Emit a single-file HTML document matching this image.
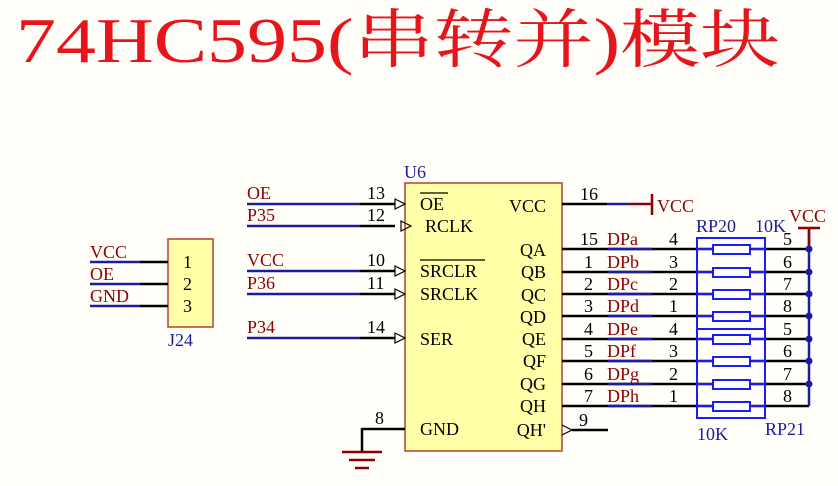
<!DOCTYPE html>
<html><head><meta charset="utf-8"><style>
body{margin:0;background:#fffef9;}
svg{display:block}
text{font-family:"Liberation Serif","Noto Serif CJK SC",serif;font-size:18px}
.r{fill:#8b0000}.k{fill:#000}.b{fill:#1c1c9c}
</style></head><body>
<svg width="838" height="486" viewBox="0 0 838 486" xmlns="http://www.w3.org/2000/svg">
<rect width="838" height="486" fill="#fffef9"/>
<text x="16" y="62" style="font-size:64px;fill:#e8141c" textLength="764" lengthAdjust="spacingAndGlyphs">74HC595(串转并)模块</text>

<!-- J24 -->
<rect x="168" y="239" width="45" height="88" fill="#ffffa8" stroke="#b0402a" stroke-width="1.5"/>
<g stroke-width="2.5">
<line x1="90" y1="262" x2="140" y2="262" stroke="#1c1c9c"/><line x1="140" y1="262" x2="168" y2="262" stroke="#000"/>
<line x1="90" y1="284" x2="140" y2="284" stroke="#1c1c9c"/><line x1="140" y1="284" x2="168" y2="284" stroke="#000"/>
<line x1="90" y1="306" x2="140" y2="306" stroke="#1c1c9c"/><line x1="140" y1="306" x2="168" y2="306" stroke="#000"/>
</g>
<text class="r" x="90" y="258">VCC</text><text class="r" x="90" y="280">OE</text><text class="r" x="90" y="302">GND</text>
<text class="k" x="183" y="268">1</text><text class="k" x="183" y="290">2</text><text class="k" x="183" y="312">3</text>
<text class="b" x="168" y="346">J24</text>

<!-- U6 -->
<rect x="405" y="183" width="157" height="268" fill="#ffffa8" stroke="#b0402a" stroke-width="1.5"/>
<text class="b" x="404" y="178">U6</text>
<g stroke-width="2.5">
<line x1="247" y1="204" x2="360" y2="204" stroke="#1c1c9c"/><line x1="360" y1="204" x2="395" y2="204" stroke="#000"/>
<line x1="247" y1="226" x2="360" y2="226" stroke="#1c1c9c"/><line x1="360" y1="226" x2="395" y2="226" stroke="#000"/>
<line x1="247" y1="271" x2="360" y2="271" stroke="#1c1c9c"/><line x1="360" y1="271" x2="395" y2="271" stroke="#000"/>
<line x1="247" y1="294" x2="360" y2="294" stroke="#1c1c9c"/><line x1="360" y1="294" x2="395" y2="294" stroke="#000"/>
<line x1="247" y1="338" x2="360" y2="338" stroke="#1c1c9c"/><line x1="360" y1="338" x2="395" y2="338" stroke="#000"/>
<line x1="362" y1="429" x2="405" y2="429" stroke="#000"/>
<line x1="362" y1="428" x2="362" y2="452" stroke="#000"/>
</g>
<g fill="none" stroke="#000" stroke-width="1.2">
<path d="M395 199 L405 204 L395 209 Z"/><path d="M395 221 L405 226 L395 231 Z" transform="translate(6 0)"/>
<path d="M395 266 L405 271 L395 276 Z"/><path d="M395 289 L405 294 L395 299 Z"/><path d="M395 333 L405 338 L395 343 Z"/>
<path d="M562 425 L572 430 L562 435"/>
</g>
<g stroke="#8b0000" stroke-width="2.5">
<line x1="342" y1="452" x2="382" y2="452"/><line x1="349" y1="460" x2="375" y2="460"/><line x1="355" y1="468" x2="369" y2="468"/>
</g>
<text class="r" x="247" y="199">OE</text><text class="r" x="247" y="221">P35</text><text class="r" x="247" y="266">VCC</text>
<text class="r" x="247" y="289">P36</text><text class="r" x="247" y="333">P34</text>
<text class="k" x="367" y="199">13</text><text class="k" x="367" y="221">12</text><text class="k" x="367" y="266">10</text>
<text class="k" x="367" y="289">11</text><text class="k" x="367" y="333">14</text><text class="k" x="375" y="424">8</text>
<text class="k" x="420" y="210">OE</text><line x1="420" y1="193" x2="448" y2="193" stroke="#000" stroke-width="1.3"/>
<text class="k" x="425" y="232">RCLK</text>
<text class="k" x="420" y="277">SRCLR</text><line x1="420" y1="260" x2="485" y2="260" stroke="#000" stroke-width="1.3"/>
<text class="k" x="420" y="300">SRCLK</text>
<text class="k" x="420" y="345">SER</text>
<text class="k" x="420" y="435">GND</text>
<g text-anchor="end">
<text class="k" x="546" y="212">VCC</text>
<text class="k" x="546" y="256">QA</text><text class="k" x="546" y="278">QB</text><text class="k" x="546" y="301">QC</text>
<text class="k" x="546" y="323">QD</text><text class="k" x="546" y="345">QE</text><text class="k" x="546" y="367">QF</text>
<text class="k" x="546" y="390">QG</text><text class="k" x="546" y="412">QH</text><text class="k" x="546" y="436">QH'</text>
</g>
<g stroke-width="2.5">
<line x1="562" y1="204" x2="607" y2="204" stroke="#000"/><line x1="607" y1="204" x2="630" y2="204" stroke="#1c1c9c"/><line x1="630" y1="204" x2="652" y2="204" stroke="#8b0000"/>
<line x1="652" y1="194" x2="652" y2="215" stroke="#8b0000"/>
<line x1="572" y1="430" x2="608" y2="430" stroke="#000"/>
</g>
<text class="r" x="657" y="212">VCC</text>
<text class="k" x="580" y="200">16</text>
<g stroke-width="2.5">
<line x1="562" y1="249" x2="809" y2="249" stroke="#000"/>
<line x1="562" y1="272" x2="809" y2="272" stroke="#000"/>
<line x1="562" y1="294" x2="809" y2="294" stroke="#000"/>
<line x1="562" y1="316" x2="809" y2="316" stroke="#000"/>
<line x1="562" y1="339" x2="809" y2="339" stroke="#000"/>
<line x1="562" y1="361" x2="809" y2="361" stroke="#000"/>
<line x1="562" y1="384" x2="809" y2="384" stroke="#000"/>
<line x1="562" y1="406" x2="809" y2="406" stroke="#000"/>
<line x1="608" y1="249" x2="652" y2="249" stroke="#1c1c9c"/><line x1="608" y1="272" x2="652" y2="272" stroke="#1c1c9c"/>
<line x1="608" y1="294" x2="652" y2="294" stroke="#1c1c9c"/><line x1="608" y1="316" x2="652" y2="316" stroke="#1c1c9c"/>
<line x1="608" y1="339" x2="652" y2="339" stroke="#1c1c9c"/><line x1="608" y1="361" x2="652" y2="361" stroke="#1c1c9c"/>
<line x1="608" y1="384" x2="652" y2="384" stroke="#1c1c9c"/><line x1="608" y1="406" x2="652" y2="406" stroke="#1c1c9c"/>
<line x1="809" y1="228" x2="809" y2="406" stroke="#1c1c9c"/>
<line x1="798" y1="228" x2="820" y2="228" stroke="#8b0000"/><line x1="809" y1="228" x2="809" y2="248" stroke="#8b0000"/>
</g>
<g fill="#1c1c9c">
<circle cx="809" cy="249" r="3.5"/><circle cx="809" cy="272" r="3.5"/><circle cx="809" cy="294" r="3.5"/><circle cx="809" cy="316" r="3.5"/>
<circle cx="809" cy="339" r="3.5"/><circle cx="809" cy="361" r="3.5"/><circle cx="809" cy="384" r="3.5"/>
</g>
<text class="r" x="789" y="222">VCC</text>
<g fill="none" stroke="#1a1aff" stroke-width="2">
<rect x="697" y="238" width="68" height="91"/><rect x="697" y="329" width="68" height="89"/>
<g fill="#fffef9">
<rect x="713" y="245" width="37" height="9"/><rect x="713" y="268" width="37" height="9"/><rect x="713" y="290" width="37" height="9"/><rect x="713" y="312" width="37" height="9"/>
<rect x="713" y="335" width="37" height="9"/><rect x="713" y="357" width="37" height="9"/><rect x="713" y="380" width="37" height="9"/><rect x="713" y="402" width="37" height="9"/>
</g>
</g>
<g stroke="#1a1aff" stroke-width="2">
<line x1="697" y1="249" x2="713" y2="249"/><line x1="750" y1="249" x2="765" y2="249"/>
<line x1="697" y1="272" x2="713" y2="272"/><line x1="750" y1="272" x2="765" y2="272"/>
<line x1="697" y1="294" x2="713" y2="294"/><line x1="750" y1="294" x2="765" y2="294"/>
<line x1="697" y1="316" x2="713" y2="316"/><line x1="750" y1="316" x2="765" y2="316"/>
<line x1="697" y1="339" x2="713" y2="339"/><line x1="750" y1="339" x2="765" y2="339"/>
<line x1="697" y1="361" x2="713" y2="361"/><line x1="750" y1="361" x2="765" y2="361"/>
<line x1="697" y1="384" x2="713" y2="384"/><line x1="750" y1="384" x2="765" y2="384"/>
<line x1="697" y1="406" x2="713" y2="406"/><line x1="750" y1="406" x2="765" y2="406"/>
</g>
<text class="b" x="696" y="232">RP20</text><text class="b" x="755" y="232">10K</text>
<text class="b" x="697" y="440">10K</text><text class="b" x="765" y="435">RP21</text>
<g class="k">
<text x="580" y="245">15</text><text x="584" y="268">1</text><text x="584" y="290">2</text><text x="584" y="312">3</text>
<text x="584" y="335">4</text><text x="584" y="357">5</text><text x="584" y="380">6</text><text x="584" y="402">7</text>
<text x="579" y="426">9</text>
<text x="669" y="245">4</text><text x="669" y="268">3</text><text x="669" y="290">2</text><text x="669" y="312">1</text>
<text x="669" y="335">4</text><text x="669" y="357">3</text><text x="669" y="380">2</text><text x="669" y="402">1</text>
<text x="783" y="245">5</text><text x="783" y="268">6</text><text x="783" y="290">7</text><text x="783" y="312">8</text>
<text x="783" y="335">5</text><text x="783" y="357">6</text><text x="783" y="380">7</text><text x="783" y="402">8</text>
</g>
<g class="r">
<text x="607" y="245">DPa</text><text x="607" y="268">DPb</text><text x="607" y="290">DPc</text><text x="607" y="312">DPd</text>
<text x="607" y="335">DPe</text><text x="607" y="357">DPf</text><text x="607" y="380">DPg</text><text x="607" y="402">DPh</text>
</g>
</svg>
</body></html>
